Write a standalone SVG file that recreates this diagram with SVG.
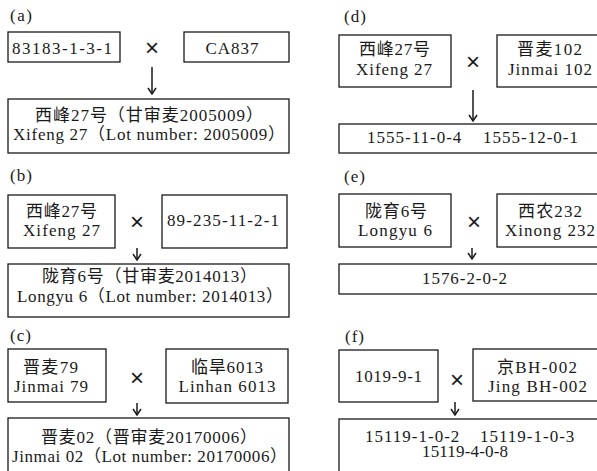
<svg xmlns="http://www.w3.org/2000/svg" width="597" height="471" viewBox="0 0 597 471">
<style>
.bg{fill:#fff}
.box{fill:#fff;stroke:#1a1a1a;stroke-width:1.3}
.t{font-family:"Liberation Serif","Noto Sans CJK SC",serif;font-size:17px;fill:#1a1a1a;text-anchor:middle}
.lbl{font-family:"Liberation Serif","Noto Sans CJK SC",serif;font-size:17px;fill:#1a1a1a}
.x{font-family:"Liberation Sans","DejaVu Sans",sans-serif;font-size:24px;fill:#1a1a1a;text-anchor:middle}
.arr{stroke:#1a1a1a;stroke-width:1.5;fill:none}
</style>
<defs>
<marker id="ah" viewBox="0 0 10 10" refX="9" refY="5" markerWidth="10" markerHeight="10" markerUnits="userSpaceOnUse" orient="auto">
<polyline points="3,1 9,5 3,9" fill="none" stroke="#1a1a1a" stroke-width="1.5"/>
</marker>
</defs>
<rect class="bg" x="0" y="0" width="597" height="471"/>

<g id="labels">
<text class="lbl" x="10" y="21" textLength="22" lengthAdjust="spacing">(a)</text>
<text class="lbl" x="10" y="181" textLength="22" lengthAdjust="spacing">(b)</text>
<text class="lbl" x="10" y="341" textLength="21" lengthAdjust="spacing">(c)</text>
<text class="lbl" x="344" y="22" textLength="22" lengthAdjust="spacing">(d)</text>
<text class="lbl" x="344" y="182" textLength="21" lengthAdjust="spacing">(e)</text>
<text class="lbl" x="345" y="342" textLength="19" lengthAdjust="spacing">(f)</text>
</g>

<g id="crosses">
<text class="x" x="152" y="56">×</text>
<text class="x" x="137" y="230">×</text>
<text class="x" x="137" y="386">×</text>
<text class="x" x="473" y="70">×</text>
<text class="x" x="474" y="230">×</text>
<text class="x" x="457" y="388">×</text>
</g>

<g id="connectors">
<line class="arr" x1="152" y1="67" x2="152" y2="94" marker-end="url(#ah)"/>
<line class="arr" x1="137" y1="248" x2="137" y2="260" marker-end="url(#ah)"/>
<line class="arr" x1="137" y1="403" x2="137" y2="415" marker-end="url(#ah)"/>
<line class="arr" x1="473" y1="90" x2="473" y2="121" marker-end="url(#ah)"/>
<line class="arr" x1="472" y1="248" x2="472" y2="259" marker-end="url(#ah)"/>
<line class="arr" x1="455" y1="402" x2="455" y2="415" marker-end="url(#ah)"/>
</g>

<!-- (a) -->
<g id="a-p1">
<rect class="box" x="8" y="32" width="112" height="30"/>
<text class="t" x="62" y="54" textLength="100" lengthAdjust="spacing">83183-1-3-1</text>
</g>
<g id="a-p2">
<rect class="box" x="184" y="32" width="105" height="30"/>
<text class="t" x="232" y="54" textLength="53" lengthAdjust="spacing">CA837</text>
</g>
<g id="a-res">
<rect class="box" x="8" y="99" width="281" height="54"/>
<text class="t" x="149" y="121" textLength="228" lengthAdjust="spacing">西峰27号（甘审麦2005009）</text>
<text class="t" x="149" y="140" textLength="272" lengthAdjust="spacing">Xifeng 27（Lot number: 2005009）</text>
</g>

<!-- (b) -->
<g id="b-p1">
<rect class="box" x="8" y="195" width="107" height="53"/>
<text class="t" x="61.5" y="217" textLength="71" lengthAdjust="spacing">西峰27号</text>
<text class="t" x="61.5" y="236" textLength="77" lengthAdjust="spacing">Xifeng 27</text>
</g>
<g id="b-p2">
<rect class="box" x="162" y="195" width="125" height="53"/>
<text class="t" x="223" y="226" textLength="112" lengthAdjust="spacing">89-235-11-2-1</text>
</g>
<g id="b-res">
<rect class="box" x="8" y="264" width="281" height="53"/>
<text class="t" x="149.5" y="282" textLength="215" lengthAdjust="spacing">陇育6号（甘审麦2014013）</text>
<text class="t" x="150" y="302" textLength="266" lengthAdjust="spacing">Longyu 6（Lot number: 2014013）</text>
</g>

<!-- (c) -->
<g id="c-p1">
<rect class="box" x="8" y="349" width="98" height="53"/>
<text class="t" x="50.5" y="373" textLength="55" lengthAdjust="spacing">晋麦79</text>
<text class="t" x="51" y="392" textLength="74" lengthAdjust="spacing">Jinmai 79</text>
</g>
<g id="c-p2">
<rect class="box" x="166" y="349" width="122" height="54"/>
<text class="t" x="227" y="373" textLength="72" lengthAdjust="spacing">临旱6013</text>
<text class="t" x="227" y="392" textLength="97" lengthAdjust="spacing">Linhan 6013</text>
</g>
<g id="c-res">
<rect class="box" x="8" y="418" width="281" height="62"/>
<text class="t" x="149" y="443" textLength="216" lengthAdjust="spacing">晋麦02（晋审麦20170006）</text>
<text class="t" x="149.5" y="462" textLength="275" lengthAdjust="spacing">Jinmai 02（Lot number: 20170006）</text>
</g>

<!-- (d) -->
<g id="d-p1">
<rect class="box" x="339" y="35" width="112" height="52"/>
<text class="t" x="394.5" y="55" textLength="71" lengthAdjust="spacing">西峰27号</text>
<text class="t" x="394" y="75" textLength="76" lengthAdjust="spacing">Xifeng 27</text>
</g>
<g id="d-p2">
<rect class="box" x="497" y="35" width="107" height="52"/>
<text class="t" x="549.5" y="55" textLength="65" lengthAdjust="spacing">晋麦102</text>
<text class="t" x="550" y="75" textLength="84" lengthAdjust="spacing">Jinmai 102</text>
</g>
<g id="d-res">
<rect class="box" x="339" y="124" width="266" height="29"/>
<text class="lbl" y="143" letter-spacing="1"><tspan x="367">1555-11-0-4</tspan><tspan x="483">1555-12-0-1</tspan></text>
</g>

<!-- (e) -->
<g id="e-p1">
<rect class="box" x="339" y="194" width="112" height="53"/>
<text class="t" x="396" y="217" textLength="62" lengthAdjust="spacing">陇育6号</text>
<text class="t" x="395" y="236" textLength="74" lengthAdjust="spacing">Longyu 6</text>
</g>
<g id="e-p2">
<rect class="box" x="497" y="194" width="107" height="53"/>
<text class="t" x="550" y="217" textLength="64" lengthAdjust="spacing">西农232</text>
<text class="t" x="550" y="236" textLength="90" lengthAdjust="spacing">Xinong 232</text>
</g>
<g id="e-res">
<rect class="box" x="339" y="264" width="266" height="30"/>
<text class="t" x="464.5" y="284" textLength="85" lengthAdjust="spacing">1576-2-0-2</text>
</g>

<!-- (f) -->
<g id="f-p1">
<rect class="box" x="339" y="350" width="99" height="52"/>
<text class="t" x="388.5" y="382" textLength="67" lengthAdjust="spacing">1019-9-1</text>
</g>
<g id="f-p2">
<rect class="box" x="473" y="349" width="131" height="52"/>
<text class="t" x="537" y="373" textLength="80" lengthAdjust="spacing">京BH-002</text>
<text class="t" x="537.5" y="392" textLength="99" lengthAdjust="spacing">Jing BH-002</text>
</g>
<g id="f-res">
<rect class="box" x="339" y="419" width="266" height="61"/>
<text class="lbl" y="442" letter-spacing="1"><tspan x="365">15119-1-0-2</tspan><tspan x="480">15119-1-0-3</tspan></text>
<text class="t" x="465" y="457" textLength="86" lengthAdjust="spacing">15119-4-0-8</text>
</g>
</svg>
